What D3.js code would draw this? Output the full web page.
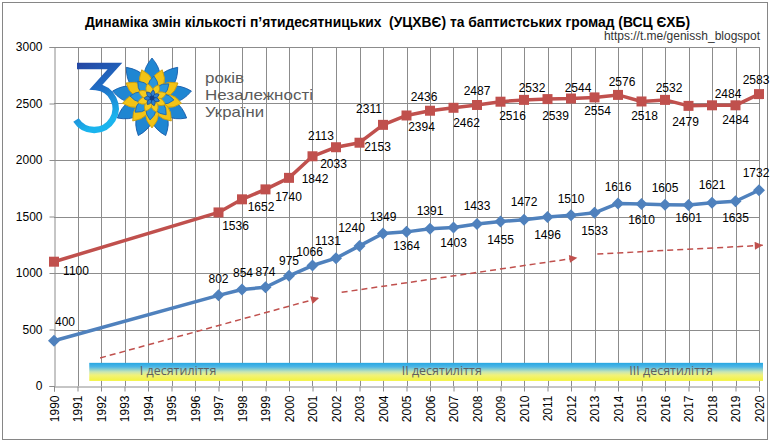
<!DOCTYPE html>
<html><head><meta charset="utf-8">
<script src="https://cdn.jsdelivr.net/npm/d3@7"></script>
<style>html,body{margin:0;padding:0;background:#fff;}svg{display:block;}</style>
</head><body>
<svg id="c" width="776" height="442"></svg>
<script>
// ---- data ----
const years = [1990,1997,1998,1999,2000,2001,2002,2003,2004,2005,2006,2007,2008,2009,2010,2011,2012,2013,2014,2015,2016,2017,2018,2019,2020];
const baptist = [1100,1536,1652,1740,1842,2033,2113,2153,2311,2394,2436,2462,2487,2516,2532,2539,2544,2554,2576,2518,2532,2479,2484,2484,2583];
const pentecostal = [400,802,854,874,975,1066,1131,1240,1349,1364,1391,1403,1433,1455,1472,1496,1510,1533,1616,1610,1605,1601,1621,1635,1732];
const yTicks = [0,500,1000,1500,2000,2500,3000];
const xTicks = d3.range(1990, 2021);
const decades = ["І десятиліття","ІІ десятиліття","ІІІ десятиліття"];
const title = "Динаміка змін кількості п’ятидесятницьких  (УЦХВЄ) та баптистських громад (ВСЦ ЄХБ)";
const source = "https://t.me/genissh_blogspot";
const logoLines = ["років","Незалежності","України"];

// ---- layout (not data) ----
const decadeX = [1995.28, 2006.5, 2016.26];
const trendArrows = [[1991.96,248,2001.28,779],[2002.24,829,2012.27,1135],[2013.12,1168,2020.16,1245]];
const band = [1991.5, 2020.17, 45, 205];
const logoWidths = [39,108,59];
const baptistLab = [[22,9],[17,13],[19,7],[23,7],[26,1],[21,7],[-15,-12],[18,4],[-14,-16],[15,11],[-6,-14],[13,15],[0,-14],[12,14],[8,-12],[8,17],[7,-11],[3,13],[4,-13],[3,14],[4,-12],[-3,16],[16,-12],[0,14],[-3,-14]];
const pentLab = [[11,-19],[0,-17],[1,-17],[0,-16],[0,-15],[-3,-14],[-8,-17],[-8,-18],[0,-17],[0,14],[0,-18],[0,15],[0,-18],[0,18],[0,-18],[0,18],[0,-17],[0,18],[0,-17],[0,16],[0,-17],[0,13],[0,-18],[0,16],[-3,-18]];

const svg = d3.select("#c");
const F = "'Liberation Sans', Arial, sans-serif";
const x = d3.scaleLinear().domain([1990,2020]).range([54,759]);
const y = d3.scaleLinear().domain([0,3000]).range([386,47]);
const RED = "#C0504D", BLUE = "#4F81BD", GRID = "#8c8c8c";

const defs = svg.append("defs");
const bg = defs.append("linearGradient").attr("id","band").attr("x1",0).attr("y1",0).attr("x2",0).attr("y2",1);
[[0,"#27A7E2"],[0.22,"#4DB6E6"],[0.5,"#C8E6B4"],[0.68,"#F1F27A"],[1,"#F3F33E"]].forEach(s=>bg.append("stop").attr("offset",s[0]).attr("stop-color",s[1]));
const tg = defs.append("linearGradient").attr("id","three").attr("x1",0).attr("y1",0).attr("x2",0.3).attr("y2",1);
[[0,"#2447A4"],[0.5,"#1F6FC6"],[1,"#1AB4EE"]].forEach(s=>tg.append("stop").attr("offset",s[0]).attr("stop-color",s[1]));
defs.append("marker").attr("id","arr").attr("viewBox","0 0 10 10").attr("refX",10).attr("refY",5)
  .attr("markerWidth",10).attr("markerHeight",8).attr("markerUnits","userSpaceOnUse").attr("orient","auto")
  .append("path").attr("d","M0,0 L10,5 L0,10 Z").attr("fill",RED);

// border
svg.append("rect").attr("x",2.5).attr("y",2.5).attr("width",765).attr("height",437).attr("fill","#fff").attr("stroke","#868686");

// grid
svg.append("g").selectAll("line").data(yTicks.filter(d=>d>0)).join("line")
  .attr("x1",x(1990)).attr("x2",x(2020)).attr("y1",d=>Math.round(y(d))+0.5).attr("y2",d=>Math.round(y(d))+0.5)
  .attr("stroke",GRID);
svg.append("g").selectAll("line").data(xTicks.filter(d=>d>1990)).join("line")
  .attr("x1",d=>Math.round(x(d))+0.5).attr("x2",d=>Math.round(x(d))+0.5).attr("y1",y(3000)).attr("y2",y(0))
  .attr("stroke",GRID);

// axes
const ya = svg.append("g").attr("transform",`translate(${Math.round(x(1990))+0.5},0)`)
  .call(d3.axisLeft(y).tickValues(yTicks).tickSize(5).tickPadding(7).tickFormat(d3.format("d")));
const xa = svg.append("g").attr("transform",`translate(0,${Math.round(y(0))+0.5})`)
  .call(d3.axisBottom(x).tickValues(xTicks).tickSize(5).tickFormat(d3.format("d")));
[ya,xa].forEach(a=>{a.select(".domain").attr("stroke",GRID);a.selectAll(".tick line").attr("stroke",GRID);
  a.selectAll("text").attr("font-family",F).attr("font-size",12).attr("fill","#000");});
xa.selectAll(".tick text").attr("transform","rotate(-90)").attr("text-anchor","end")
  .attr("x",-9).attr("y",0).attr("dy","0.35em");

// logo
const logo = svg.append("g");
logo.append("path").attr("d","M77,66 H115 L96,87 A 21.5 21.5 0 1 1 76,120")
  .attr("fill","none").attr("stroke","url(#three)").attr("stroke-width",6.5).attr("stroke-linejoin","miter");
const fl = logo.append("g").attr("transform","translate(152,98)");
function petal(L,w,r0){return `M0,${-r0} Q${w},${-(r0+L*0.45)} 0,${-(r0+L)} Q${-w},${-(r0+L*0.45)} 0,${-r0} Z`;}
const layers = [
  {n:9,L:34,w:16,r0:6,rot:0,fill:"#1F86D2",stroke:"#1459A8"},
  {n:9,L:26,w:13,r0:4,rot:20,fill:"#F2C316",stroke:"#C99A0C"},
  {n:8,L:19,w:10,r0:3,rot:5,fill:"#2A95DC",stroke:"#1A64AE"},
  {n:8,L:13,w:7,r0:2,rot:27,fill:"#F5CC1E",stroke:"#C99A0C"},
  {n:7,L:7,w:4,r0:1,rot:10,fill:"#2B7FD0",stroke:"#174E96"}
];
layers.forEach(l=>{
  fl.append("g").selectAll("path").data(d3.range(l.n)).join("path")
    .attr("d",petal(l.L,l.w,l.r0)).attr("transform",d=>`rotate(${l.rot+d*360/l.n})`)
    .attr("fill",l.fill).attr("stroke",l.stroke).attr("stroke-width",0.8);
});
fl.append("circle").attr("r",2.5).attr("fill","#123E86");
logo.selectAll("text.lg").data(logoLines).join("text").attr("class","lg")
  .attr("x",205).attr("y",(d,i)=>83+i*17).attr("font-family",F)
  .attr("font-size",14.5).attr("fill","#5a5a5a")
  .attr("textLength",(d,i)=>logoWidths[i]).attr("lengthAdjust","spacingAndGlyphs").text(d=>d);

// decade band
svg.append("rect").attr("x",x(band[0])).attr("y",y(band[3])).attr("width",x(band[1])-x(band[0])).attr("height",y(band[2])-y(band[3]))
  .attr("fill","url(#band)");
svg.append("g").selectAll("text").data(decades).join("text")
  .attr("x",(d,i)=>x(decadeX[i])).attr("y",y(band[2])-5.5).attr("text-anchor","middle")
  .attr("font-family","'Open Sans', 'Noto Sans', sans-serif").attr("font-size",12.5).attr("fill","#5f5f5f").text(d=>d);

// trend arrows
svg.append("g").selectAll("line").data(trendArrows).join("line")
  .attr("x1",d=>x(d[0])).attr("y1",d=>y(d[1])).attr("x2",d=>x(d[2])).attr("y2",d=>y(d[3]))
  .attr("stroke",RED).attr("stroke-width",1.5).attr("stroke-dasharray","6,4").attr("marker-end","url(#arr)");

// series
function series(vals, color, shape, labOff){
  const pts = years.map((yr,i)=>[yr, vals[i]]);
  svg.append("path").datum(pts).attr("fill","none").attr("stroke",color).attr("stroke-width",3.5)
    .attr("stroke-linejoin","round").attr("d",d3.line().x(d=>x(d[0])).y(d=>y(d[1])));
  svg.append("g").selectAll("path").data(pts).join("path")
    .attr("d", shape==="square" ? "M-5,-5H5V5H-5Z" : "M0,-6L6,0L0,6L-6,0Z")
    .attr("transform",d=>`translate(${x(d[0])},${y(d[1])})`).attr("fill",color);
  svg.append("g").selectAll("text").data(pts).join("text")
    .attr("x",(d,i)=>x(d[0])+labOff[i][0]).attr("y",(d,i)=>y(d[1])+labOff[i][1]+4.3)
    .attr("text-anchor","middle").attr("font-family",F).attr("font-size",12).attr("fill","#000")
    .text(d=>d[1]);
}
series(baptist, RED, "square", baptistLab);
series(pentecostal, BLUE, "diamond", pentLab);

// title & source
svg.append("text").attr("x",387.5).attr("y",27).attr("text-anchor","middle")
  .attr("font-family",F).attr("font-weight","bold").attr("font-size",14).attr("fill","#000")
  .attr("textLength",605).attr("lengthAdjust","spacingAndGlyphs").style("white-space","pre").text(title);
svg.append("text").attr("x",760).attr("y",40).attr("text-anchor","end")
  .attr("font-family",F).attr("font-size",12).attr("fill","#333").text(source);
</script>
</body></html>
